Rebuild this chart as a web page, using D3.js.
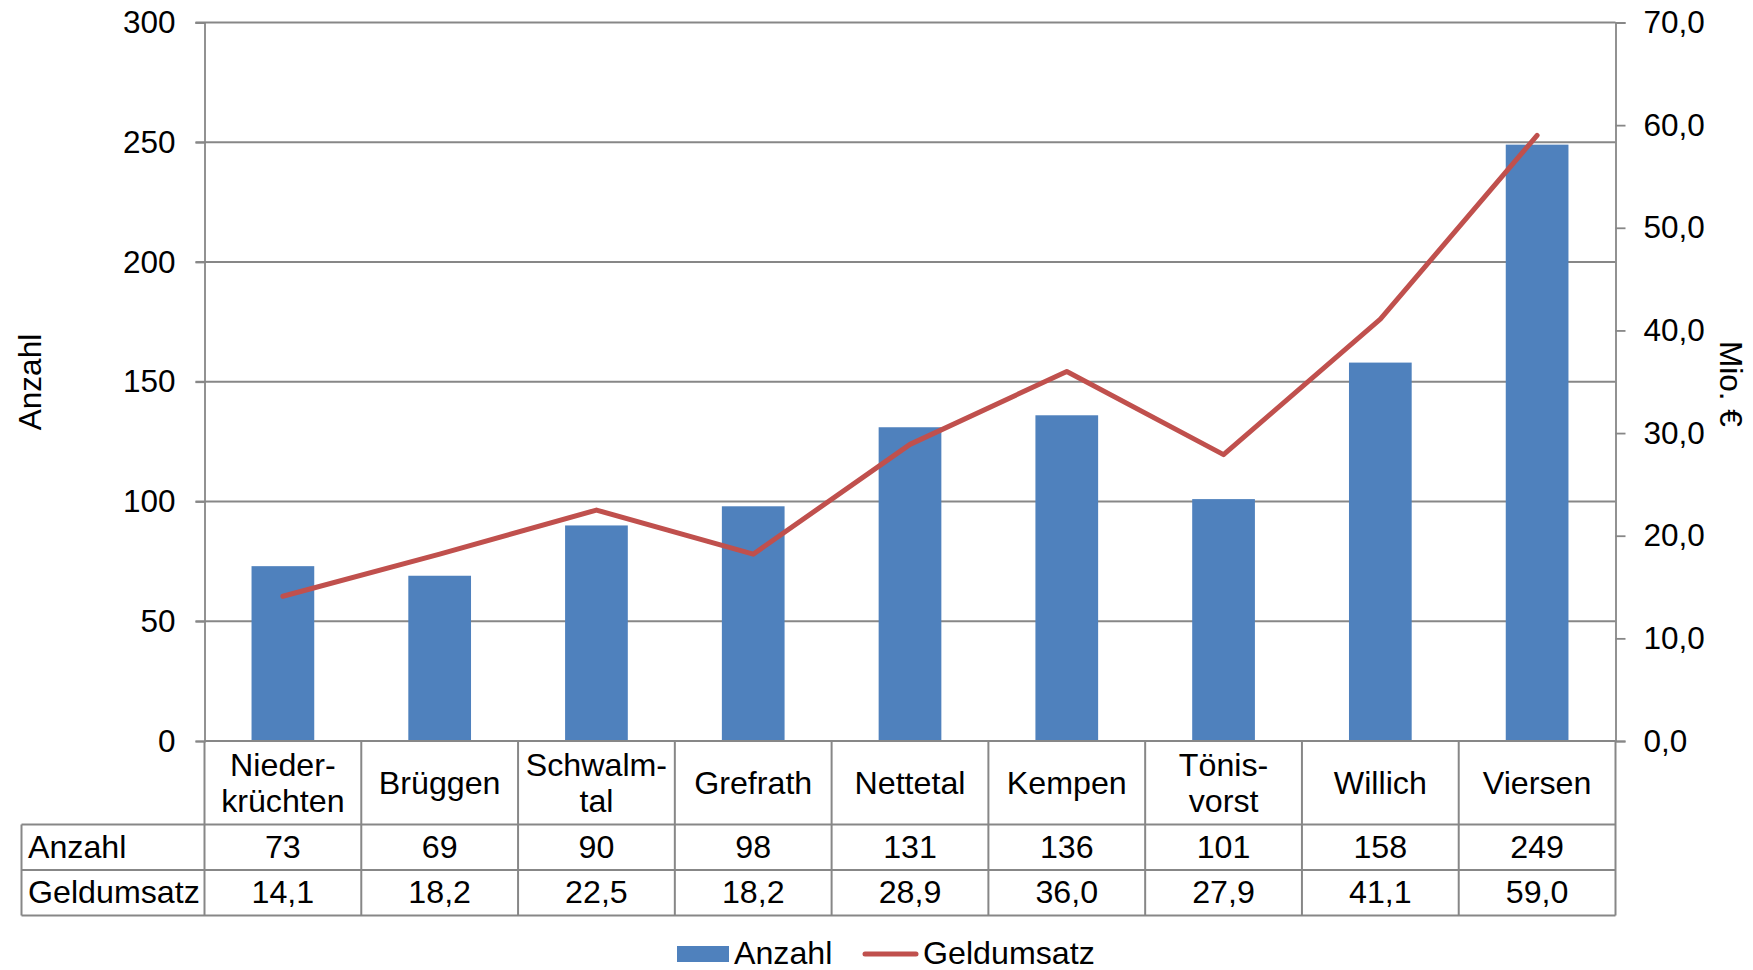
<!DOCTYPE html>
<html>
<head>
<meta charset="utf-8">
<script src="https://cdn.jsdelivr.net/npm/d3@7"></script>
<style>
  html, body { margin: 0; padding: 0; background: #fff; }
  text { font-family: "Liberation Sans", Arial, sans-serif; fill: #000; }
</style>
</head>
<body>
<svg id="chart" width="1753" height="970"></svg>
<script>
// Gemeinden (Kreis Viersen) – Anzahl der Kauffälle und Geldumsatz
const categories = ["Niederkrüchten", "Brüggen", "Schwalmtal", "Grefrath", "Nettetal", "Kempen", "Tönisvorst", "Willich", "Viersen"];
const categoryLines = [["Nieder-", "krüchten"], ["Brüggen"], ["Schwalm-", "tal"], ["Grefrath"], ["Nettetal"], ["Kempen"], ["Tönis-", "vorst"], ["Willich"], ["Viersen"]];
const anzahl = [73, 69, 90, 98, 131, 136, 101, 158, 249];
const geldumsatz = [14.1, 18.2, 22.5, 18.2, 28.9, 36.0, 27.9, 41.1, 59.0];
const leftTicks = [0, 50, 100, 150, 200, 250, 300];
const rightTicks = [0, 10, 20, 30, 40, 50, 60, 70];
const seriesNames = ["Anzahl", "Geldumsatz"];

const blue = "#4F81BD", red = "#C0504D", grid = "#878787";
const tickFont = 31.5, textFont = 32.2;

const svg = d3.select("#chart");
const plotLeft = 204.5, plotRight = 1615.5, plotTop = 22.5, base = 741;
const row1 = 824.5, row2 = 870, row3 = 915.5, tableLeft = 21.5;

const yL = d3.scaleLinear().domain([0, 300]).range([base, plotTop]);
const yR = d3.scaleLinear().domain([0, 70]).range([base, plotTop]);
const xCol = d3.scaleBand().domain(categories).range([plotLeft, plotRight]).padding(0);
const xBar = d3.scaleBand().domain(categories).range([plotLeft, plotRight]).paddingInner(0.6).paddingOuter(0.3);
const fmt = d => d3.format(".1f")(d).replace(".", ",");

// horizontal gridlines
svg.append("g").selectAll("line").data(leftTicks.filter(d => d > 0)).join("line")
  .attr("x1", plotLeft - 9).attr("x2", plotRight)
  .attr("y1", d => yL(d)).attr("y2", d => yL(d))
  .attr("stroke", grid).attr("stroke-width", 1.8);

// left axis
const gL = svg.append("g").attr("transform", `translate(${plotLeft},0)`)
  .call(d3.axisLeft(yL).tickValues(leftTicks).tickSize(9).tickPadding(20));
gL.select(".domain").attr("stroke", grid).attr("stroke-width", 1.8);
gL.selectAll(".tick line").attr("stroke", grid).attr("stroke-width", 1.8);
gL.selectAll(".tick text").attr("font-size", tickFont).attr("font-family", "Liberation Sans, Arial, sans-serif").attr("fill", "#000");

// right axis
const gR = svg.append("g").attr("transform", `translate(${plotRight},0)`)
  .call(d3.axisRight(yR).tickValues(rightTicks).tickSize(10).tickPadding(18).tickFormat(fmt));
gR.select(".domain").attr("stroke", grid).attr("stroke-width", 1.8);
gR.selectAll(".tick line").attr("stroke", grid).attr("stroke-width", 1.8);
gR.selectAll(".tick text").attr("font-size", tickFont).attr("font-family", "Liberation Sans, Arial, sans-serif").attr("fill", "#000");

// axis titles
svg.append("text").attr("transform", `translate(30,382) rotate(-90)`)
  .attr("text-anchor", "middle").attr("dominant-baseline", "central")
  .attr("font-size", tickFont).text("Anzahl");
svg.append("text").attr("transform", `translate(1731,384) rotate(90)`)
  .attr("text-anchor", "middle").attr("dominant-baseline", "central")
  .attr("font-size", tickFont).text("Mio. €");

// bars
svg.append("g").selectAll("rect").data(anzahl).join("rect")
  .attr("x", (d, i) => xBar(categories[i]))
  .attr("width", xBar.bandwidth())
  .attr("y", d => yL(d))
  .attr("height", d => base - yL(d))
  .attr("fill", blue);

// line
const line = d3.line()
  .x((d, i) => xCol(categories[i]) + xCol.bandwidth() / 2)
  .y(d => yR(d));
svg.append("path").datum(geldumsatz).attr("d", line)
  .attr("fill", "none").attr("stroke", red).attr("stroke-width", 5)
  .attr("stroke-linejoin", "round").attr("stroke-linecap", "round");

// data table
const tg = svg.append("g").attr("stroke", grid).attr("stroke-width", 2);
tg.append("line").attr("x1", plotLeft).attr("x2", plotRight).attr("y1", base).attr("y2", base);
[row1, row2, row3].forEach(y => tg.append("line").attr("x1", tableLeft).attr("x2", plotRight).attr("y1", y).attr("y2", y));
tg.selectAll("line.col").data(d3.range(categories.length + 1)).join("line").attr("class", "col")
  .attr("x1", i => plotLeft + i * xCol.step()).attr("x2", i => plotLeft + i * xCol.step())
  .attr("y1", base).attr("y2", row3);
tg.append("line").attr("x1", tableLeft).attr("x2", tableLeft).attr("y1", row1).attr("y2", row3);

// category headings
categoryLines.forEach((lines, i) => {
  const cx = xCol(categories[i]) + xCol.bandwidth() / 2;
  const cy = (base + row1) / 2 + 11;
  const t = svg.append("text").attr("text-anchor", "middle").attr("font-size", textFont);
  lines.forEach((s, k) => {
    t.append("tspan").attr("x", cx).attr("y", cy + (k - (lines.length - 1) / 2) * 36).text(s);
  });
});

// row labels and values
const rows = [[seriesNames[0], anzahl, d => String(d), row1, row2], [seriesNames[1], geldumsatz, fmt, row2, row3]];
rows.forEach(([name, vals, f, y0, y1]) => {
  const cy = (y0 + y1) / 2 + 10.5;
  svg.append("text").attr("x", 28).attr("y", cy).attr("font-size", textFont).text(name);
  svg.append("g").selectAll("text").data(vals).join("text")
    .attr("x", (d, i) => xCol(categories[i]) + xCol.bandwidth() / 2)
    .attr("y", cy).attr("text-anchor", "middle").attr("font-size", textFont)
    .text(f);
});

// legend
const lg = svg.append("g");
lg.append("rect").attr("x", 677).attr("y", 946).attr("width", 52).attr("height", 16).attr("fill", blue);
lg.append("text").attr("x", 734).attr("y", 964).attr("font-size", textFont).text(seriesNames[0]);
lg.append("line").attr("x1", 865).attr("x2", 916).attr("y1", 954).attr("y2", 954)
  .attr("stroke", red).attr("stroke-width", 5).attr("stroke-linecap", "round");
lg.append("text").attr("x", 923).attr("y", 964).attr("font-size", textFont).text(seriesNames[1]);
</script>
</body>
</html>
